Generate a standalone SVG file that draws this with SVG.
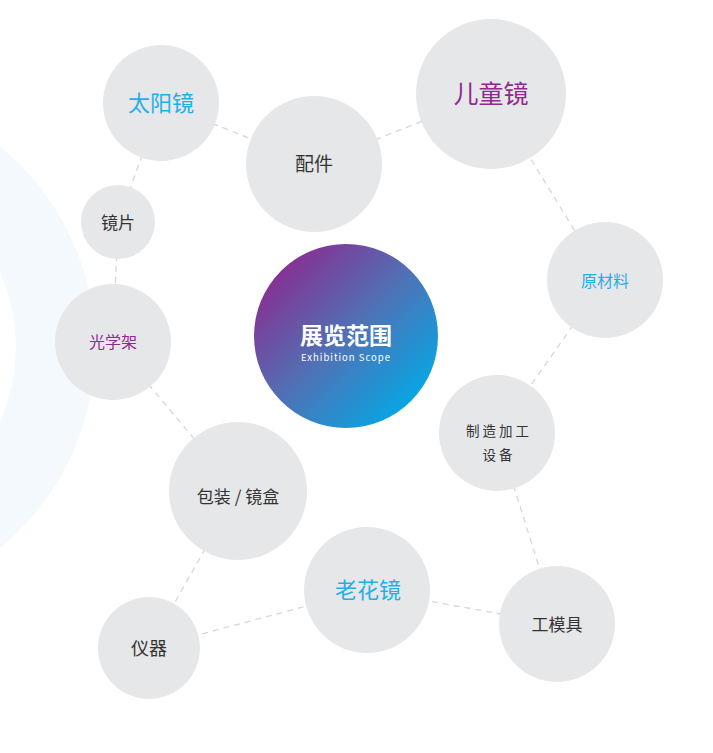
<svg xmlns="http://www.w3.org/2000/svg" width="713" height="753" viewBox="0 0 713 753">
<defs>
<linearGradient id="g" x1="0" y1="0" x2="1" y2="1">
<stop offset="0.1" stop-color="#8c2a8f"/>
<stop offset="0.5" stop-color="#4f72b6"/>
<stop offset="0.9" stop-color="#00abe8"/>
</linearGradient>
<style>
.n{fill:#e6e7e9}
.t{font-family:"Noto Sans CJK SC","Noto Sans",sans-serif;text-anchor:middle;fill:#333}
.b{fill:#1fb0e6}
.p{fill:#93298f}
.w{fill:#fff}
.c line{stroke:#d7d7d7;stroke-width:1.3;stroke-dasharray:6 5}
</style>
</defs>
<rect width="713" height="753" fill="#fff"/>
<circle cx="-165" cy="347" r="220.5" fill="none" stroke="#f3f9fd" stroke-width="79"/>
<g id="connectors" class="c">
<line x1="161" y1="103" x2="314" y2="164"/>
<line x1="314" y1="164" x2="491" y2="94"/>
<line x1="161" y1="103" x2="118" y2="222"/>
<line x1="118" y1="222" x2="113" y2="342"/>
<line x1="491" y1="94" x2="605" y2="280"/>
<line x1="605" y1="280" x2="497" y2="433"/>
<line x1="113" y1="342" x2="238" y2="491"/>
<line x1="497" y1="433" x2="557" y2="624"/>
<line x1="238" y1="491" x2="149" y2="648"/>
<line x1="149" y1="648" x2="367" y2="590"/>
<line x1="367" y1="590" x2="557" y2="624"/>
</g>
<g id="n-sun"><circle class="n" cx="161" cy="103" r="58"/><text class="t b" x="161" y="111" font-size="22">太阳镜</text></g>
<g id="n-acc"><circle class="n" cx="314" cy="164" r="68"/><text class="t" x="314" y="171" font-size="19">配件</text></g>
<g id="n-kids"><circle class="n" cx="491" cy="94" r="75"/><text class="t p" x="491" y="103" font-size="25">儿童镜</text></g>
<g id="n-lens"><circle class="n" cx="118" cy="222" r="37"/><text class="t" x="118" y="229" font-size="17">镜片</text></g>
<g id="n-raw"><circle class="n" cx="605" cy="280" r="58"/><text class="t b" x="605" y="287" font-size="16">原材料</text></g>
<g id="n-frame"><circle class="n" cx="113" cy="342" r="58"/><text class="t p" x="113" y="348" font-size="16">光学架</text></g>
<g id="n-center"><circle cx="346" cy="336" r="92" fill="url(#g)"/>
<text class="t w" x="346" y="344" font-size="23" font-weight="bold">展览范围</text>
<text class="t w" x="346" y="361" font-size="9.5" letter-spacing="1">Exhibition Scope</text></g>
<g id="n-mfg"><circle class="n" cx="497" cy="433" r="58"/><text class="t" x="499" y="436" font-size="13.5" letter-spacing="3">制造加工</text><text class="t" x="499" y="460" font-size="13.5" letter-spacing="3">设备</text></g>
<g id="n-pack"><circle class="n" cx="238" cy="491" r="69"/><text class="t" x="238" y="503" font-size="17">包装 / 镜盒</text></g>
<g id="n-read"><circle class="n" cx="367" cy="590" r="63"/><text class="t b" x="368" y="598" font-size="22">老花镜</text></g>
<g id="n-inst"><circle class="n" cx="149" cy="648" r="51"/><text class="t" x="149" y="655" font-size="18">仪器</text></g>
<g id="n-tool"><circle class="n" cx="557" cy="624" r="58"/><text class="t" x="557" y="631" font-size="17">工模具</text></g>
</svg>
